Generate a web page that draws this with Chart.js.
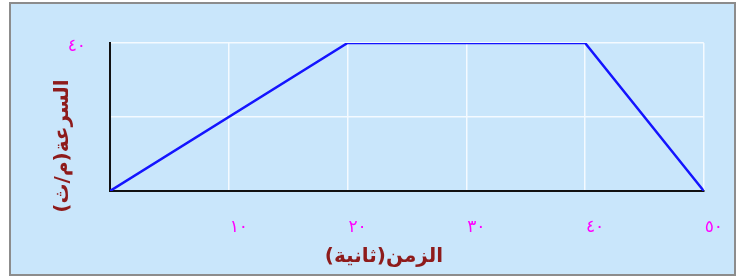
<!DOCTYPE html>
<html lang="ar">
<head>
  <meta charset="UTF-8">
  <title>السرعة والزمن</title>
  <script src="https://cdn.jsdelivr.net/npm/chart.js"></script>
  <style>
    body { margin: 0; background: #ffffff; }
  </style>
</head>
<body>
  <canvas id="speedChart" width="739" height="280"></canvas>

  <script>
    // data
    const times = [0, 20, 40, 50];
    const speeds = [0, 40, 40, 0];

    const xTickValues = [0, 10, 20, 30, 40, 50];
    const xTickLabels = ['', '١٠', '٢٠', '٣٠', '٤٠', '٥٠'];
    const yTickValues = [0, 20, 40];
    const yTickLabels = ['', '', '٤٠'];

    const xTitle = 'الزمن(ثانية)';
    const yTitle = 'السرعة(م/ث)';

    const panelBg = '#c9e6fb';
    const titleColor = '#8e1b1b';
    const tickColor = '#ff00ff';

    // light blue panel with grey frame
    const panelPlugin = {
      id: 'panel',
      beforeDraw(chart) {
        const c = chart.ctx;
        c.save();
        c.fillStyle = panelBg;
        c.fillRect(10, 3, 725, 272);
        c.strokeStyle = '#8c8c8c';
        c.lineWidth = 2;
        c.strokeRect(10, 3, 725, 272);
        c.restore();
      }
    };

    // axis titles, placed like the original
    const titlesPlugin = {
      id: 'titles',
      afterDraw(chart) {
        const c = chart.ctx;
        const a = chart.chartArea;
        c.save();
        c.fillStyle = titleColor;
        c.font = 'bold 20px "DejaVu Sans"';
        c.textAlign = 'center';
        c.textBaseline = 'middle';
        c.fillText(xTitle, a.left + 274, 257);
        c.translate(63, a.top + 103);
        c.rotate(-Math.PI / 2);
        c.fillText(yTitle, 0, 0);
        c.restore();
      }
    };

    const ctx = document.getElementById('speedChart').getContext('2d');
    new Chart(ctx, {
      type: 'line',
      data: {
        datasets: [{
          data: times.map((t, i) => ({ x: t, y: speeds[i] })),
          borderColor: '#1414ff',
          borderWidth: 2.5,
          pointRadius: 0,
          tension: 0,
          fill: false
        }]
      },
      options: {
        responsive: false,
        animation: false,
        layout: { padding: { left: 20, top: 43, right: 34, bottom: 10 } },
        plugins: {
          legend: { display: false },
          tooltip: { enabled: false }
        },
        scales: {
          x: {
            type: 'linear',
            min: 0,
            max: 50,
            afterBuildTicks: s => { s.ticks = xTickValues.map(v => ({ value: v })); },
            afterFit: s => { s.height = 79; },
            grid: {
              color: c => c.tick && c.tick.value === 0 ? 'rgba(0,0,0,0)' : '#f4faff',
              lineWidth: 1.5,
              drawTicks: false
            },
            border: { display: true, color: '#111111', width: 2 },
            ticks: {
              color: tickColor,
              font: { family: 'DejaVu Sans', size: 17 },
              padding: 26,
              labelOffset: 10,
              maxRotation: 0,
              callback: v => xTickLabels[xTickValues.indexOf(v)]
            }
          },
          y: {
            min: 0,
            max: 40,
            afterBuildTicks: s => { s.ticks = yTickValues.map(v => ({ value: v })); },
            afterFit: s => { s.width = 90; },
            grid: {
              color: c => c.tick && c.tick.value === 0 ? 'rgba(0,0,0,0)' : '#f4faff',
              lineWidth: 1.5,
              drawTicks: false
            },
            border: { display: true, color: '#111111', width: 2 },
            ticks: {
              color: tickColor,
              font: { family: 'DejaVu Sans', size: 17 },
              padding: 24,
              labelOffset: 4,
              callback: v => yTickLabels[yTickValues.indexOf(v)]
            }
          }
        }
      },
      plugins: [panelPlugin, titlesPlugin]
    });
  </script>
</body>
</html>
